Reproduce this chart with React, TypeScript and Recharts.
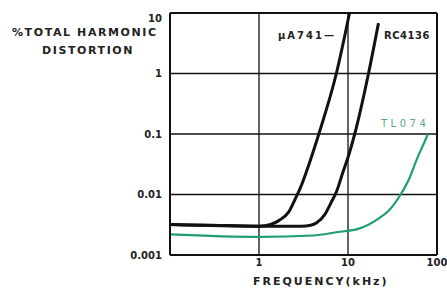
import React from "react";
import { LineChart, Line, XAxis, YAxis, CartesianGrid, ReferenceLine } from "recharts";

const xTicks = [0.1, 1, 10, 100];
const yTicks = [0.001, 0.01, 0.1, 1, 10];

const ua741 = [
  { f: 0.1, thd: 0.0032 },
  { f: 0.3, thd: 0.0031 },
  { f: 1, thd: 0.003 },
  { f: 1.35, thd: 0.0032 },
  { f: 1.67, thd: 0.0037 },
  { f: 2.15, thd: 0.0051 },
  { f: 2.56, thd: 0.0085 },
  { f: 2.9, thd: 0.0126 },
  { f: 3.6, thd: 0.03 },
  { f: 4.7, thd: 0.1 },
  { f: 7.4, thd: 1 },
  { f: 10.4, thd: 10 },
];

const rc4136 = [
  { f: 0.1, thd: 0.0032 },
  { f: 1, thd: 0.003 },
  { f: 3, thd: 0.003 },
  { f: 3.8, thd: 0.0031 },
  { f: 4.44, thd: 0.0034 },
  { f: 5.5, thd: 0.0047 },
  { f: 6.5, thd: 0.0075 },
  { f: 7.4, thd: 0.011 },
  { f: 8.8, thd: 0.0237 },
  { f: 10.2, thd: 0.045 },
  { f: 11.9, thd: 0.1 },
  { f: 17, thd: 1 },
  { f: 22, thd: 6.8 },
];

const tl074 = [
  { f: 0.1, thd: 0.0022 },
  { f: 1, thd: 0.002 },
  { f: 4, thd: 0.0021 },
  { f: 7.7, thd: 0.0024 },
  { f: 13, thd: 0.0027 },
  { f: 22, thd: 0.004 },
  { f: 29, thd: 0.0055 },
  { f: 39, thd: 0.01 },
  { f: 49, thd: 0.0186 },
  { f: 60, thd: 0.04 },
  { f: 73, thd: 0.076 },
  { f: 79, thd: 0.1 },
];

const FONT = "'DejaVu Sans', sans-serif";

const fmtX = (v: number) => (v === 0.1 ? "" : String(v));

const YTick = (props: any) => {
  const { x, y, payload } = props;
  const shift = payload.value === 10 ? 5 : 0;
  return (
    <text x={x} y={y + shift} dy="0.355em" textAnchor="end" fontSize={10} fontWeight="bold" fill="#222" fontFamily={FONT}>
      {String(payload.value)}
    </text>
  );
};

export default function App() {
  return (
    <div style={{ position: "absolute", left: 0, top: 0, width: 447, height: 289, background: "#fff", fontFamily: FONT }}>
      <LineChart width={447} height={289} margin={{ top: 13, right: 10, bottom: 14, left: 0 }}>
        <CartesianGrid stroke="#111" strokeWidth={1.3} horizontalValues={[0.01, 0.1, 1]} verticalValues={[1, 10]} />
        <XAxis
          dataKey="f"
          type="number"
          scale="log"
          domain={[0.1, 100]}
          ticks={xTicks}
          tickFormatter={fmtX}
          allowDataOverflow
          height={20}
          axisLine={{ stroke: "#111", strokeWidth: 2 }}
          tickLine={false}
          tickSize={2}
          tick={{ fontSize: 10, fontWeight: "bold", fill: "#222", fontFamily: FONT }}
        />
        <YAxis
          dataKey="thd"
          type="number"
          scale="log"
          domain={[0.001, 10]}
          ticks={yTicks}
          allowDataOverflow
          width={170}
          axisLine={{ stroke: "#111", strokeWidth: 2 }}
          tickLine={false}
          tick={<YTick />}
        />
        <ReferenceLine y={10} stroke="#111" strokeWidth={2} />
        <ReferenceLine x={100} stroke="#111" strokeWidth={2} />
        <Line data={tl074} dataKey="thd" type="monotone" stroke="#1f9e70" strokeWidth={2.2} dot={false} isAnimationActive={false} />
        <Line data={ua741} dataKey="thd" type="monotone" stroke="#111" strokeWidth={3} dot={false} isAnimationActive={false} />
        <Line data={rc4136} dataKey="thd" type="monotone" stroke="#111" strokeWidth={3} dot={false} isAnimationActive={false} />
      </LineChart>
      <div style={{ position: "absolute", left: 12, top: 26, fontSize: 11, fontWeight: "bold", letterSpacing: 1.6, color: "#222", whiteSpace: "nowrap" }}>
        %TOTAL HARMONIC
      </div>
      <div style={{ position: "absolute", left: 42, top: 44, fontSize: 11, fontWeight: "bold", letterSpacing: 1.6, color: "#222", whiteSpace: "nowrap" }}>
        DISTORTION
      </div>
      <div style={{ position: "absolute", left: 278, top: 30, fontSize: 10, fontWeight: "bold", letterSpacing: 2, color: "#222", whiteSpace: "nowrap" }}>
        μA741—
      </div>
      <div style={{ position: "absolute", left: 384, top: 30, fontSize: 10, fontWeight: "bold", letterSpacing: 0.5, color: "#222", whiteSpace: "nowrap" }}>
        RC4136
      </div>
      <div style={{ position: "absolute", left: 381, top: 118, fontSize: 10, letterSpacing: 3.5, color: "#5aa88a", whiteSpace: "nowrap" }}>
        TL074
      </div>
      <div style={{ position: "absolute", left: 253, top: 275, fontSize: 11, fontWeight: "bold", letterSpacing: 2, color: "#222", whiteSpace: "nowrap" }}>
        FREQUENCY(kHz)
      </div>
    </div>
  );
}
